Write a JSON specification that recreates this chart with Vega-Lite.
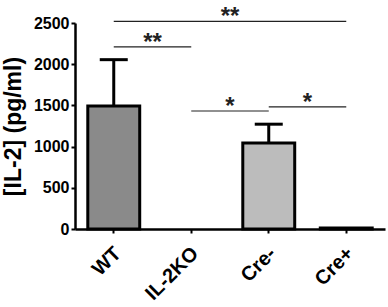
{
  "$schema": "https://vega.github.io/schema/vega-lite/v6.json",
  "autosize": "none",
  "width": 310,
  "height": 206,
  "padding": {"left": 75, "top": 23, "right": 3, "bottom": 78},
  "config": {
    "view": {"stroke": null},
    "font": "Liberation Sans",
    "axis": {
      "domainColor": "black", "tickColor": "black", "labelColor": "black", "titleColor": "black",
      "grid": false, "labelFont": "Liberation Sans", "titleFont": "Liberation Sans"
    }
  },
  "layer": [
    {
      "data": {"values": [
        {"group": "WT", "mean": 1493, "upper": 2055},
        {"group": "IL-2KO", "mean": 0, "upper": 0},
        {"group": "Cre-", "mean": 1044, "upper": 1272},
        {"group": "Cre+", "mean": 12, "upper": 12}
      ]},
      "encoding": {
        "x": {
          "field": "group", "type": "nominal", "sort": null,
          "scale": {"paddingInner": 0.33, "paddingOuter": 0.165},
          "axis": {
            "title": null, "labelAngle": -45, "labelAlign": "right", "labelBaseline": "top",
            "labelFontSize": 20, "labelFontWeight": 900, "labelLimit": 300, "labelBound": false,
            "labelOffset": -3, "labelPadding": 10, "domainWidth": 2.5, "tickWidth": 2, "tickSize": 4
          }
        }
      },
      "layer": [
        {
          "mark": {"type": "bar", "stroke": "black", "strokeWidth": 3},
          "encoding": {
            "y": {
              "field": "mean", "type": "quantitative", "title": "[IL-2] (pg/ml)",
              "scale": {"domain": [0, 2500], "nice": false},
              "axis": {
                "values": [0, 500, 1000, 1500, 2000, 2500], "format": "d", "labelFontSize": 16, "labelFontWeight": "bold",
                "titleFontSize": 23, "titleFontWeight": "bold", "titlePadding": 8,
                "domainWidth": 2.5, "tickWidth": 2, "tickSize": 4, "labelPadding": 2
              }
            },
            "color": {
              "field": "group", "type": "nominal", "legend": null,
              "scale": {"domain": ["WT", "IL-2KO", "Cre-", "Cre+"], "range": ["#8a8a8a", "#bdbdbd", "#bcbcbc", "#bdbdbd"]}
            },
            "strokeOpacity": {"condition": {"test": "datum.mean > 0", "value": 1}, "value": 0}
          }
        },
        {
          "mark": {"type": "rule", "color": "black", "strokeWidth": 3},
          "encoding": {
            "y": {"field": "mean", "type": "quantitative", "title": "[IL-2] (pg/ml)"},
            "y2": {"field": "upper"}
          }
        },
        {
          "mark": {"type": "tick", "color": "black", "thickness": 3, "size": 28},
          "encoding": {
            "y": {"field": "upper", "type": "quantitative", "title": "[IL-2] (pg/ml)"},
            "opacity": {"condition": {"test": "datum.upper > datum.mean", "value": 1}, "value": 0}
          }
        }
      ]
    },
    {
      "data": {"values": [
        {"from": 1, "to": 2, "mid": 1.5, "level": 2210, "label": "**"},
        {"from": 1, "to": 4, "mid": 2.5, "level": 2520, "label": "**"},
        {"from": 2, "to": 3, "mid": 2.5, "level": 1432, "label": "*"},
        {"from": 3, "to": 4, "mid": 3.5, "level": 1481, "label": "*"}
      ]},
      "layer": [
        {
          "mark": {"type": "rule", "color": "#222", "strokeWidth": 1.2},
          "encoding": {
            "x": {"field": "from", "type": "quantitative", "scale": {"domain": [0.5, 4.5], "nice": false, "zero": false}, "axis": null},
            "x2": {"field": "to"},
            "y": {"field": "level", "type": "quantitative", "title": "[IL-2] (pg/ml)"}
          }
        },
        {
          "mark": {"type": "text", "fontSize": 24, "fontWeight": "bold", "baseline": "alphabetic", "color": "#222", "dy": 3},
          "encoding": {
            "x": {"field": "mid", "type": "quantitative", "scale": {"domain": [0.5, 4.5], "nice": false, "zero": false}, "axis": null},
            "y": {"field": "level", "type": "quantitative", "title": "[IL-2] (pg/ml)"},
            "text": {"field": "label"}
          }
        }
      ]
    }
  ],
  "resolve": {"scale": {"x": "independent"}, "axis": {"x": "independent"}}
}
